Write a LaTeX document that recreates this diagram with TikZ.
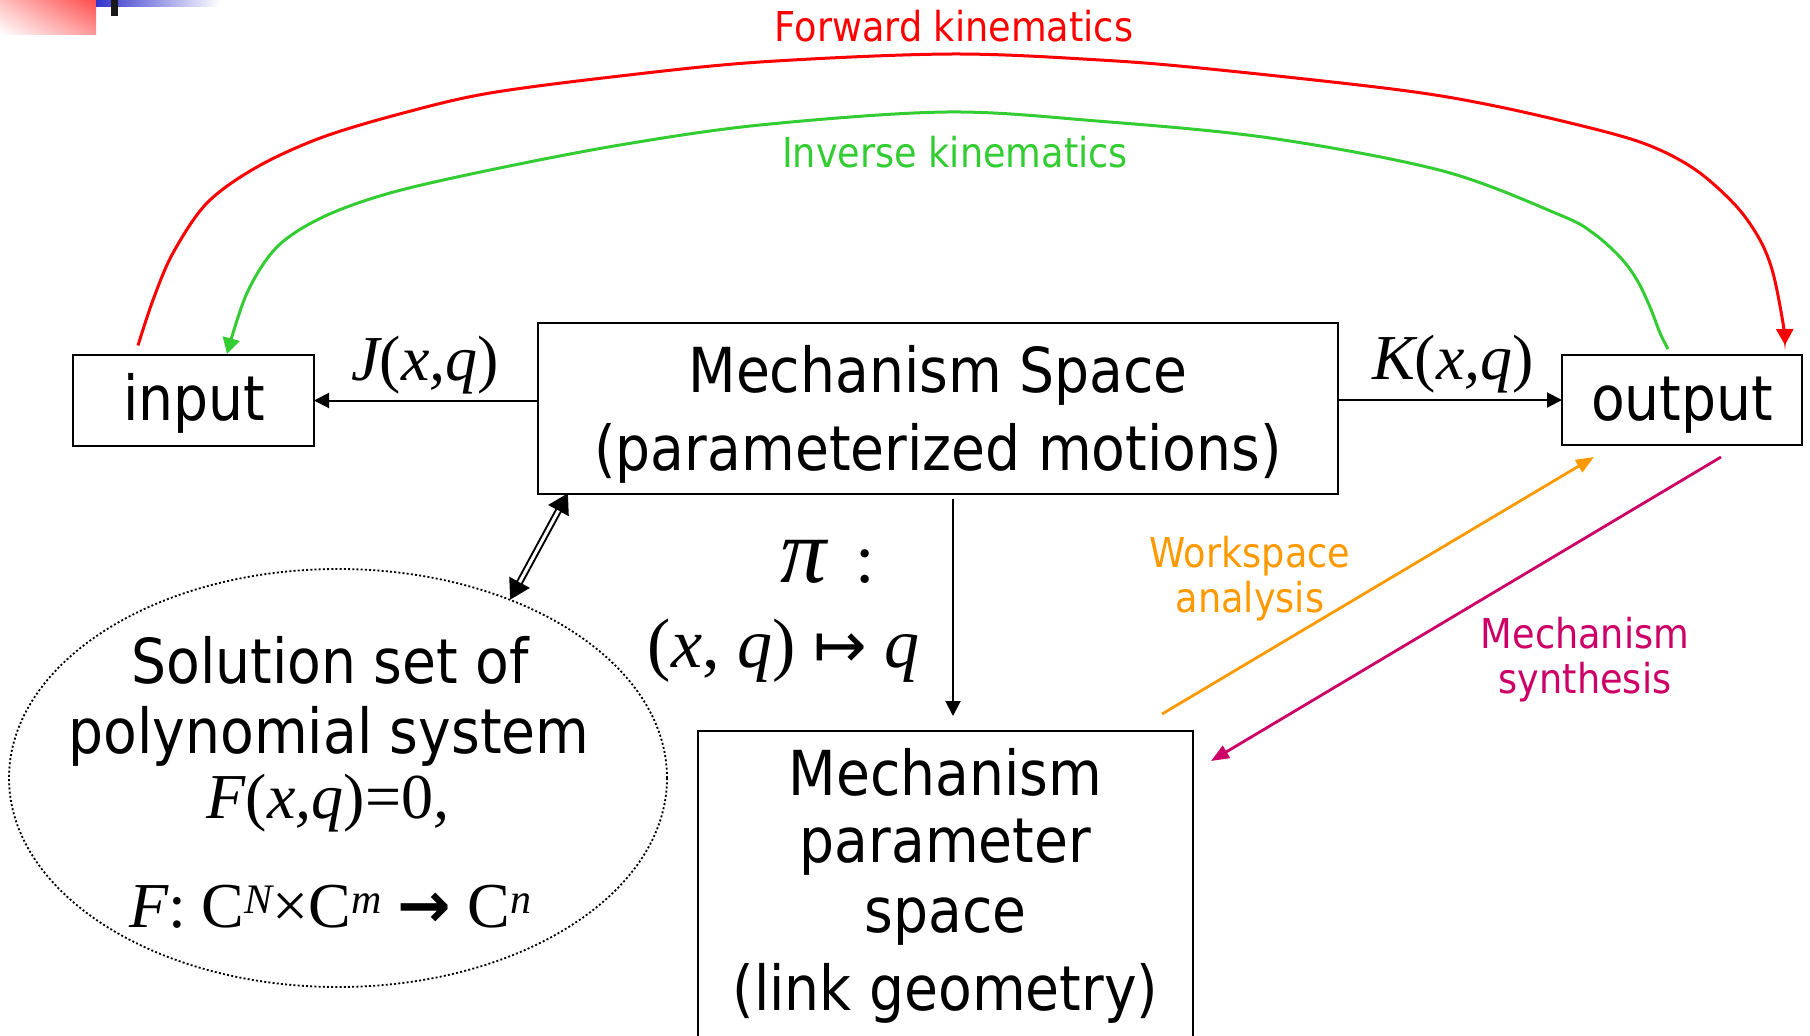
\documentclass[tikz,border=0pt]{standalone}
\usepackage{fontspec}
\setmainfont{DejaVu Sans}[FakeStretch=0.89]
\newfontfamily\tms{Liberation Serif}
\newfontfamily\djv{DejaVu Sans}
\usetikzlibrary{shapes.geometric,arrows.meta,calc,shadings}
\definecolor{fkred}{HTML}{FF0000}
\definecolor{ikgreen}{HTML}{33CC33}
\definecolor{wsorange}{HTML}{FF9900}
\definecolor{msmag}{HTML}{CC0066}
\definecolor{barblue}{HTML}{3333CC}
\newcommand\bigtxt{\fontsize{31}{37}\selectfont}
\newcommand\smalltxt{\fontsize{20.6}{24}\selectfont}
\newcommand\tmstxt{\fontsize{32}{38}\selectfont\tms}
\newcommand\maptxt{\fontsize{35}{40}\selectfont\tms}
\newcommand\supx[1]{\raisebox{7pt}{\fontsize{21}{21}\selectfont\itshape #1}}
\begin{document}
\begin{tikzpicture}[x=0.5pt,y=-0.5pt,
  box/.style={draw, line width=1pt, inner sep=0pt, outer sep=0pt, rectangle},
  lbl/.style={anchor=base, inner sep=0pt, outer sep=0pt, align=center},
  blk/.style={line width=1pt, -{Triangle[length=7.5pt,width=7.5pt]}},
  curv/.style={line width=1.5pt, -{Triangle[length=8pt,width=8.5pt]}},
  diag/.style={line width=1.4pt, -{Triangle[length=9pt,width=7pt]}},
]
\useasboundingbox (0,0) rectangle (1810,1035);
\clip (0,0) rectangle (1810,1035);

% corner decoration
\shade[upper right=red!70, lower left=white, upper left=red!25, lower right=red!40] (0,0) rectangle (96,34);
\shade[left color=barblue, right color=white] (96,0) rectangle (220,6);
\fill[black!90] (111,0) rectangle (118,16);

% boxes
\node[box, minimum width=120.5pt, minimum height=45.5pt] (input) at (193.5,400.5) {};
\node[box, minimum width=120pt, minimum height=45pt] (output) at (1682,400) {};
\node[box, minimum width=400pt, minimum height=85.5pt] (ms) at (938,408.5) {};
\node[box, minimum width=247.5pt, minimum height=160pt] (param) at (945.5,891) {};
\node[draw, ellipse, line width=0.9pt, dash pattern=on 1pt off 1.1pt, minimum width=329pt, minimum height=209pt, inner sep=0pt, outer sep=0pt] (sol) at (338,778) {};

% box texts
\node[lbl] (tin) at (194,420) {\bigtxt input};
\node[lbl] (tout) at (1682,420) {\bigtxt output};
\node[lbl] (tms1) at (938,392) {\bigtxt Mechanism Space};
\node[lbl] (tms2) at (938,470) {\bigtxt (parameterized motions)};
\node[lbl] (tp1) at (945.5,795) {\bigtxt Mechanism};
\node[lbl] (tp2) at (945.5,862) {\bigtxt parameter};
\node[lbl] (tp3) at (945.5,932) {\bigtxt space};
\node[lbl] (tp4) at (945.5,1010) {\bigtxt (link geometry)};
\node[lbl] (ts1) at (330,683) {\bigtxt Solution set of};
\node[lbl] (ts2) at (329,753) {\bigtxt polynomial system};
\node[lbl] (ts3) at (328,818) {\tmstxt\itshape F\upshape(\itshape x,q\upshape)=0\itshape,};
\node[lbl] (ts4) at (330,927) {\tmstxt\itshape F\upshape: C\supx{N}×C\supx{m} {\djv\bfseries →} C\supx{n}};

% arrow labels
\node[lbl] (lJ) at (425,380) {\tmstxt\itshape J\upshape(\itshape x,q\upshape)};
\node[lbl] (lK) at (1453,379) {\tmstxt\itshape K\upshape(\itshape x,q\upshape)};
\node[lbl] (lpi) at (828,582) {{\fontsize{46}{50}\selectfont\tms\itshape π}{\maptxt\ \,:}};
\node[lbl] (lmap) at (783.5,667) {\maptxt(\itshape x\upshape, \itshape q\upshape) {\djv\fontsize{32}{38}\selectfont ↦} \itshape q};
\node[lbl, text=fkred] (lfk) at (954,41) {\smalltxt Forward kinematics};
\node[lbl, text=ikgreen] (lik) at (955,167) {\smalltxt Inverse kinematics};
\node[lbl, text=wsorange] (lws1) at (1250,567) {\smalltxt Workspace};
\node[lbl, text=wsorange] (lws2) at (1250,612) {\smalltxt analysis};
\node[lbl, text=msmag] (lsy1) at (1585,648) {\smalltxt Mechanism};
\node[lbl, text=msmag] (lsy2) at (1585,693) {\smalltxt synthesis};

% black connectors
\draw[blk] (ms.west |- input.east) -- (input.east);
\draw[blk] (ms.east |- output.west) -- (output.west);
\coordinate (piS) at ($(ms.south)+(15,5)$);
\draw[blk] (piS) -- ($(piS |- param.north)+(0,-15)$);

% double arrow
\coordinate (dA) at ($(ms.south west)+(30,-1)$);
\coordinate (dB) at (sol.46.5);
\draw[line width=3.5pt, {Triangle[length=10pt,width=11pt]}-{Triangle[length=10pt,width=11pt]}] (dA) -- (dB);
\draw[white, line width=1.5pt, shorten <=10pt, shorten >=10pt] (dA) -- (dB);

% kinematics curves
\coordinate (rS) at ($(input.north west)+(65,-9.5)$);
\coordinate (rE) at ($(output.north east)+(-17,-10)$);
\draw[curv, fkred] plot[smooth, tension=0.55] coordinates {(rS) (153,300) (173,253) (207,203) (257,167) (323,137) (407,112) (490,93) (620,76) (760,62) (950,54) (1100,60) (1210,69) (1400,90) (1500,107) (1610,133) (1660,150) (1700,173) (1737,207) (1760,240) (1773,273) (1783,323) (rE)};
\coordinate (gS) at ($(output.north)+(-14,-6)$);
\coordinate (gE) at ($(input.north west)+(154,-1)$);
\draw[curv, ikgreen] plot[smooth, tension=0.55] coordinates {(gS) (1660,333) (1650,307) (1637,280) (1620,257) (1593,233) (1560,215) (1443,171) (1270,138) (1097,121) (946,112) (760,125) (620,145) (490,170) (390,193) (323,217) (277,247) (247,293) (gE)};

% workspace / synthesis
\draw[diag, wsorange] ($(param.north east)+(-31,-17)$) -- ($(output.south west)+(32,12)$);
\draw[diag, msmag] ($(output.south)+(39,12)$) -- ($(param.north east)+(18,30)$);
\end{tikzpicture}
\end{document}
